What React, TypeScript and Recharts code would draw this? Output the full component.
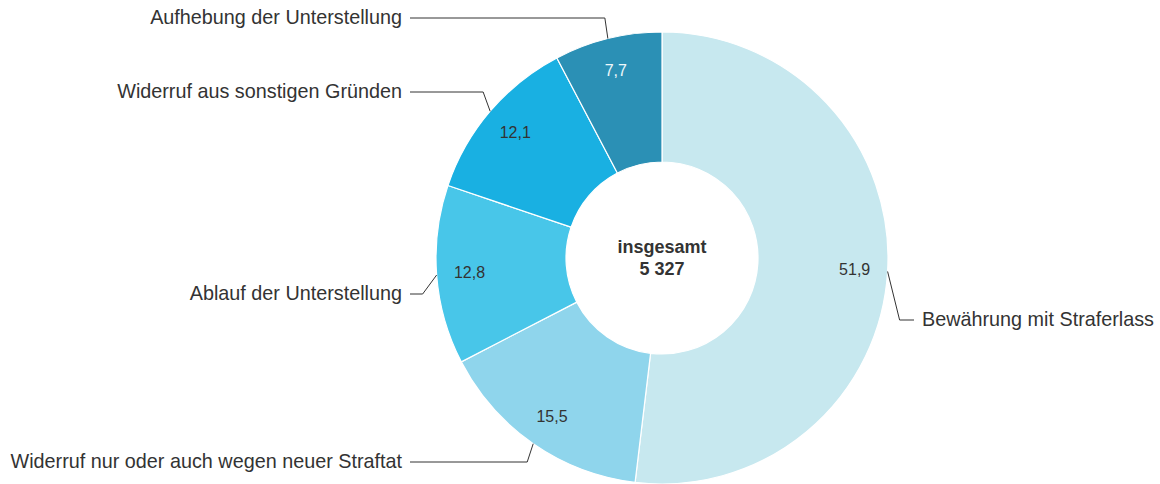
import React from 'react';
import { PieChart, Pie, Cell } from 'recharts';

const categories = [
  'Bewährung mit Straferlass',
  'Widerruf nur oder auch wegen neuer Straftat',
  'Ablauf der Unterstellung',
  'Widerruf aus sonstigen Gründen',
  'Aufhebung der Unterstellung',
];
const shares = [51.9, 15.5, 12.8, 12.1, 7.7];
const total = 5327;
const totalLabel = 'insgesamt';

const sliceColors = ['#c7e8ef', '#8fd5ec', '#48c6e9', '#19b0e2', '#2b90b5'];
const valueColors = ['#333333', '#333333', '#333333', '#333333', '#eef8fb'];
// label row offset from centre (y) and elbow shift (x) for each leader line
const labelDy = [62, 204, 36, -166, -240];
const elbowDx = [12, -6, -14, -7, -3];

const data = categories.map((name, i) => ({ name, value: shares[i] }));

const RAD = Math.PI / 180;
const FONT = '"Liberation Sans", Arial, sans-serif';

const fmt = (v: number) => v.toFixed(1).replace('.', ',');
const fmtTotal = (v: number) => String(v).replace(/\B(?=(\d{3})+(?!\d))/g, ' ');

const renderLabel = (props: any) => {
  const { cx, cy, midAngle, outerRadius, index, value } = props;
  const cos = Math.cos(-midAngle * RAD);
  const sin = Math.sin(-midAngle * RAD);
  const vr = 193;
  const vx = cx + vr * cos;
  const vy = cy + vr * sin;
  const sx = cx + outerRadius * cos;
  const sy = cy + outerRadius * sin;
  const right = cos > 0;
  const ly = cy + labelDy[index];
  const ex = sx + elbowDx[index];
  const hx = right ? cx + 252 : cx - 252;
  const tx = right ? cx + 260 : cx - 260;
  return (
    <g>
      {index === 0 && (
        <g>
          <text x={cx} y={cy - 5} textAnchor="middle" fontFamily={FONT} fontSize={18} fontWeight="bold" fill="#333333">
            {totalLabel}
          </text>
          <text x={cx} y={cy + 17} textAnchor="middle" fontFamily={FONT} fontSize={18} fontWeight="bold" fill="#333333">
            {fmtTotal(total)}
          </text>
        </g>
      )}
      <text
        x={vx}
        y={vy}
        textAnchor="middle"
        dominantBaseline="central"
        fontFamily={FONT}
        fontSize={16}
        fill={valueColors[index]}
      >
        {fmt(value)}
      </text>
      <polyline
        points={`${sx},${sy} ${ex},${ly} ${hx},${ly}`}
        fill="none"
        stroke="#333333"
        strokeWidth={1}
      />
      <text
        x={tx}
        y={ly + 6}
        textAnchor={right ? 'start' : 'end'}
        fontFamily={FONT}
        fontSize={19.8}
        fill="#333333"
      >
        {categories[index]}
      </text>
    </g>
  );
};

export default function App() {
  return (
    <div style={{ width: 1160, height: 484, background: '#ffffff' }}>
      <style>{`body{margin:0}`}</style>
      <PieChart width={1160} height={484} margin={{ top: 0, right: 0, bottom: 0, left: 0 }}>
        <Pie
          data={data}
          dataKey="value"
          nameKey="name"
          cx={662}
          cy={258}
          innerRadius={96}
          outerRadius={226}
          startAngle={90}
          endAngle={-270}
          stroke="#ffffff"
          strokeWidth={1.2}
          label={renderLabel}
          labelLine={false}
          isAnimationActive={false}
        >
          {data.map((d, i) => (
            <Cell key={d.name} fill={sliceColors[i]} />
          ))}
        </Pie>
      </PieChart>
    </div>
  );
}
